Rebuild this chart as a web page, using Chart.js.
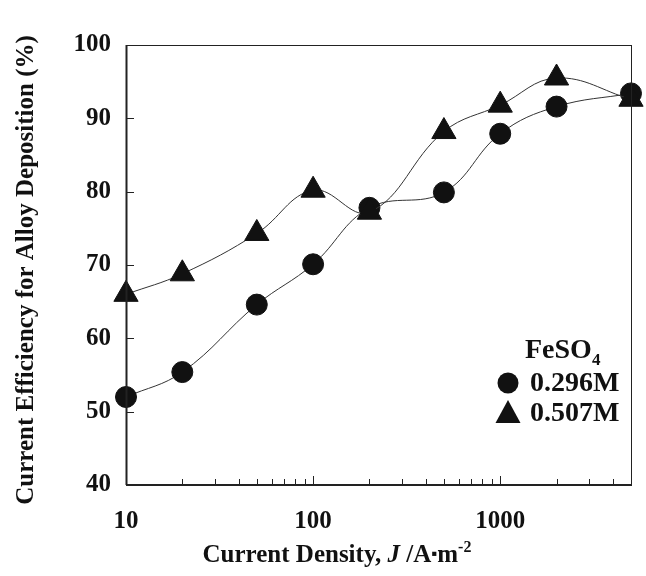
<!DOCTYPE html>
<html>
<head>
<meta charset="utf-8">
<style>
  html, body { margin: 0; padding: 0; background: #fff; }
  #wrap { width: 646px; height: 576px; }
</style>
<script src="https://cdn.jsdelivr.net/npm/chart.js@4/dist/chart.umd.min.js"></script>
</head>
<body>
<div id="wrap"><canvas id="chart" width="646" height="576"></canvas></div>
<script>
/* ---- data ---- */
const densities = [10, 20, 50, 100, 200, 500, 1000, 2000, 5000];
const eff0296 = [52.0, 55.4, 64.6, 70.1, 77.8, 79.9, 87.9, 91.6, 93.4];
const eff0507 = [66.0, 68.8, 74.3, 80.2, 77.2, 88.2, 91.8, 95.5, 92.6];
const xTicks = [10, 20, 30, 40, 50, 60, 70, 80, 90, 100, 200, 300, 400, 500, 600, 700, 800, 900, 1000, 2000, 3000, 4000];
const xLabels = [10, 100, 1000];
const yTicks = [40, 50, 60, 70, 80, 90, 100];

const FONT = '"Liberation Serif", "Times New Roman", serif';

function toPoints(ys) {
  return densities.map((x, i) => ({ x, y: ys[i] }));
}

/* ---- frame, inward ticks, titles, legend ---- */
const decorations = {
  id: 'decorations',
  afterDraw(chart) {
    const { ctx, chartArea: a, scales } = chart;
    ctx.save();

    // box
    ctx.strokeStyle = '#222';
    ctx.lineWidth = 1;
    ctx.strokeRect(a.left + 0.5, a.top + 0.5, a.right - a.left, a.bottom - a.top);
    ctx.lineWidth = 2;
    ctx.beginPath();
    ctx.moveTo(a.left, a.bottom); ctx.lineTo(a.right, a.bottom);
    ctx.moveTo(a.left + 0.5, a.top); ctx.lineTo(a.left + 0.5, a.bottom);
    ctx.stroke();

    // inward ticks
    ctx.lineWidth = 1;
    ctx.beginPath();
    xTicks.forEach(v => {
      const px = Math.round(scales.x.getPixelForValue(v)) + 0.5;
      const len = xLabels.includes(v) ? 9 : 6;
      ctx.moveTo(px, a.bottom); ctx.lineTo(px, a.bottom - len);
    });
    yTicks.forEach(v => {
      const py = Math.round(scales.y.getPixelForValue(v)) + 0.5;
      ctx.moveTo(a.left, py); ctx.lineTo(a.left + 8, py);
    });
    ctx.stroke();

    ctx.fillStyle = '#111';
    ctx.textBaseline = 'alphabetic';

    // x title with mixed styles
    const parts = [
      { t: 'Current Density, ', f: 'bold 25px ' + FONT, dy: 0 },
      { t: 'J', f: 'italic bold 25px ' + FONT, dy: 0 },
      { t: ' /A', f: 'bold 25px ' + FONT, dy: 0 },
      { t: '\u25AA', f: 'bold 17px ' + FONT, dy: -3 },
      { t: 'm', f: 'bold 25px ' + FONT, dy: 0 },
      { t: '-2', f: 'bold 16px ' + FONT, dy: -10 }
    ];
    let total = 0;
    parts.forEach(p => { ctx.font = p.f; p.w = ctx.measureText(p.t).width; total += p.w; });
    let x = 337 - total / 2;
    const base = a.bottom + 77;
    parts.forEach(p => { ctx.font = p.f; ctx.fillText(p.t, x, base + p.dy); x += p.w; });

    // y title
    ctx.save();
    ctx.translate(27, 270);
    ctx.rotate(-Math.PI / 2);
    ctx.font = 'bold 25px ' + FONT;
    ctx.textAlign = 'center';
    ctx.textBaseline = 'middle';
    ctx.fillText('Current Efficiency for Alloy Deposition (%)', 0, 0);
    ctx.restore();

    // legend
    const cx = a.right - 123;
    const tx = a.right - 101;
    ctx.textBaseline = 'middle';
    ctx.textAlign = 'left';
    ctx.font = 'bold 28px ' + FONT;
    ctx.fillText('FeSO', tx - 5, a.bottom - 134);
    const fw = ctx.measureText('FeSO').width;
    ctx.font = 'bold 17px ' + FONT;
    ctx.fillText('4', tx - 5 + fw, a.bottom - 124);

    ctx.font = 'bold 28px ' + FONT;
    ctx.fillText('0.296M', tx, a.bottom - 101);
    ctx.fillText('0.507M', tx, a.bottom - 71);

    ctx.beginPath();
    ctx.arc(cx, a.bottom - 102, 10.5, 0, Math.PI * 2);
    ctx.fill();
    ctx.beginPath();
    ctx.moveTo(cx, a.bottom - 85);
    ctx.lineTo(cx - 12.5, a.bottom - 62);
    ctx.lineTo(cx + 12.5, a.bottom - 62);
    ctx.closePath();
    ctx.fill();

    ctx.restore();
  }
};

const ctx = document.getElementById('chart').getContext('2d');
new Chart(ctx, {
  type: 'line',
  data: {
    datasets: [
      {
        label: '0.507M',
        data: toPoints(eff0507),
        borderColor: '#333',
        borderWidth: 1,
        backgroundColor: '#111',
        pointBackgroundColor: '#111',
        pointBorderColor: '#111',
        pointStyle: 'triangle',
        pointRadius: 14,
        tension: 0.4
      },
      {
        label: '0.296M',
        data: toPoints(eff0296),
        borderColor: '#333',
        borderWidth: 1,
        backgroundColor: '#111',
        pointBackgroundColor: '#111',
        pointBorderColor: '#111',
        pointStyle: 'circle',
        pointRadius: 10.5,
        tension: 0.4
      }
    ]
  },
  options: {
    responsive: false,
    animation: false,
    clip: false,
    layout: { padding: { top: 45, right: 12, left: 0, bottom: 0 } },
    plugins: {
      legend: { display: false },
      tooltip: { enabled: false }
    },
    scales: {
      x: {
        type: 'logarithmic',
        min: 10,
        max: 5000,
        afterBuildTicks: s => { s.ticks = xTicks.map(v => ({ value: v })); },
        afterFit: s => { s.height = 91; },
        grid: { display: false, drawTicks: false },
        border: { display: false },
        ticks: {
          autoSkip: false,
          maxRotation: 0,
          padding: 22,
          color: '#111',
          font: { family: FONT, size: 25, weight: 'bold' },
          callback: v => xLabels.includes(v) ? String(v) : ''
        }
      },
      y: {
        min: 40,
        max: 100,
        afterBuildTicks: s => { s.ticks = yTicks.map(v => ({ value: v })); },
        afterFit: s => { s.width = 126; },
        grid: { display: false, drawTicks: false },
        border: { display: false },
        ticks: {
          padding: 15,
          color: '#111',
          font: { family: FONT, size: 25, weight: 'bold' }
        }
      }
    }
  },
  plugins: [decorations]
});
</script>
</body>
</html>
